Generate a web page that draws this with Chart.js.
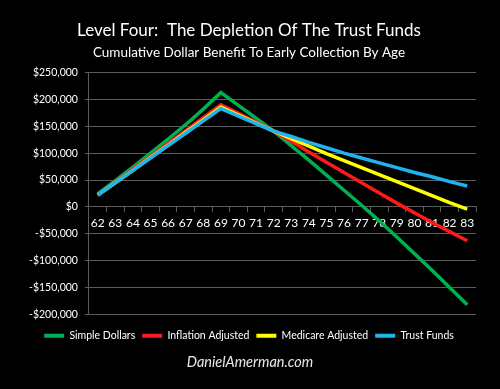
<!DOCTYPE html>
<html>
<head>
<meta charset="utf-8">
<script src="https://cdn.jsdelivr.net/npm/chart.js@4.4.1/dist/chart.umd.min.js"></script>
<style>
  html, body { margin: 0; padding: 0; background: #000; }
  #wrap { position: relative; width: 500px; height: 389px; background: #000; }
  #chart { position: absolute; left: 0; top: 0; }
  #footer {
    position: absolute; left: 0; top: 353px; width: 500px; text-align: center;
    font-family: Lato, sans-serif; font-style: italic; font-size: 14.5px; color: #e8e8e8;
  }
</style>
</head>
<body>
<div id="wrap">
  <canvas id="chart" width="500" height="389"></canvas>
  <div id="footer">DanielAmerman.com</div>
</div>
<script>
// ages on the x axis
const ages = ["62","63","64","65","66","67","68","69","70","71","72","73","74","75","76","77","78","79","80","81","82","83"];

// cumulative benefit values (dollars)
const simpleDollars = [24000, 49000, 74000, 100000, 126000, 153000, 182000, 213000,
  189000, 165000, 141000, 114000, 87000, 59000, 31000, 3000, -26000, -56000, -87000, -118000, -150000, -182000];
const inflationAdjusted = [22000, 46000, 70000, 94000, 118000, 142000, 166000, 190000,
  174000, 158000, 141000, 122000, 102000, 83000, 64000, 45000, 26000, 7000, -11000, -29000, -46000, -63000];
const medicareAdjusted = [22000, 45000, 68000, 92000, 115000, 139000, 162000, 186000,
  171000, 156000, 141000, 127000, 113000, 99000, 86000, 73000, 60000, 47000, 34000, 21000, 8000, -4000];
const trustFunds = [22000, 45000, 68000, 91000, 114000, 137000, 160000, 183000,
  169000, 155000, 141000, 131000, 120000, 110000, 100000, 91000, 82000, 73000, 64000, 56000, 47000, 39000];

const seriesNames = ["Simple Dollars", "Inflation Adjusted", "Medicare Adjusted", "Trust Funds"];
const seriesColors = ["#00b050", "#ff1a1a", "#ffff00", "#1eb4f0"];
const seriesData = [simpleDollars, inflationAdjusted, medicareAdjusted, trustFunds];

const FONT = "Lato, sans-serif";
const GRID = "#5c5c5c";

function money(v) {
  const s = "$" + Math.abs(v).toLocaleString("en-US");
  return v < 0 ? "-" + s : s;
}

// first dataset is drawn on top, so feed them in reverse and flip the legend back
const datasets = seriesNames.map((name, i) => ({
  label: name,
  data: seriesData[i],
  borderColor: seriesColors[i],
  backgroundColor: seriesColors[i],
  borderWidth: 3.5,
  pointRadius: 0,
  tension: 0,
  fill: false,
})).reverse();

new Chart(document.getElementById("chart"), {
  type: "line",
  data: { labels: ages, datasets: datasets },
  options: {
    responsive: false,
    animation: false,
    layout: { padding: { left: 22, right: 24, top: 0, bottom: 38 } },
    plugins: {
      title: {
        display: true,
        text: "Level Four:  The Depletion Of The Trust Funds",
        color: "#ffffff",
        font: { family: FONT, size: 17, weight: "normal" },
        padding: { top: 20, bottom: 4 },
      },
      subtitle: {
        display: true,
        text: "Cumulative Dollar Benefit To Early Collection By Age",
        color: "#ffffff",
        font: { family: FONT, size: 13.5, weight: "normal" },
        padding: { top: 0, bottom: 12 },
      },
      legend: {
        position: "bottom",
        reverse: true,
        // empty title only used as a spacer above the legend row
        title: { display: true, text: " ", font: { size: 1 }, padding: { top: 8, bottom: 0 } },
        labels: {
          color: "#ffffff",
          font: { family: FONT, size: 10.5 },
          boxWidth: 20,
          boxHeight: 4,
          padding: 7,
          generateLabels(chart) {
            const items = Chart.defaults.plugins.legend.labels.generateLabels(chart);
            items.forEach(it => { it.lineWidth = 0; it.fillStyle = it.strokeStyle; });
            return items;
          },
        },
      },
      tooltip: { enabled: false },
    },
    scales: {
      x: {
        position: { y: 0 },
        offset: true,
        grid: { drawOnChartArea: false, offset: true, color: GRID, tickLength: 5 },
        border: { color: GRID },
        ticks: { color: "#ffffff", font: { family: FONT, size: 12 }, maxRotation: 0, autoSkip: false, padding: 4 },
      },
      y: {
        min: -200000,
        max: 250000,
        ticks: {
          stepSize: 50000,
          color: "#ffffff",
          font: { family: FONT, size: 10.5 },
          padding: 7,
          callback: v => money(v),
        },
        grid: { color: GRID, tickLength: 4 },
        border: { color: GRID },
      },
    },
  },
});
</script>
</body>
</html>
